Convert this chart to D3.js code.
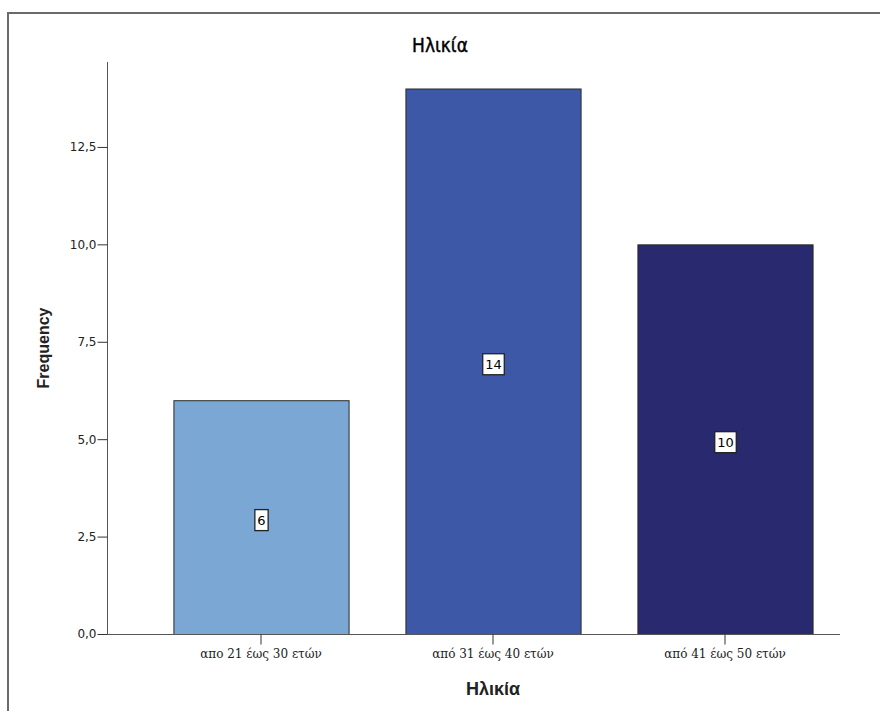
<!DOCTYPE html>
<html><head><meta charset="utf-8">
<script src="https://cdn.jsdelivr.net/npm/d3@7"></script>
<style>body{margin:0;background:#fff;} svg{display:block;}</style>
</head><body>
<svg id="chart" width="880" height="711"></svg>
<script>
const categories = ["απο 21 έως 30 ετών", "από 31 έως 40 ετών", "από 41 έως 50 ετών"];
const values = [6, 14, 10];
const colors = ["#7BA7D5", "#3E58A8", "#28296E"];
const yTicks = [0, 2.5, 5, 7.5, 10, 12.5];
const title = "Ηλικία";
const xTitle = "Ηλικία";
const yTitle = "Frequency";

const svg = d3.select("#chart");
// frame
svg.append("path").attr("d", "M8,711 V13 H880").attr("fill", "none").attr("stroke", "#6a6a6a").attr("stroke-width", 2);

const y = d3.scaleLinear().domain([0, 14.68]).range([634, 62]);
const x = d3.scaleBand().domain(categories).range([145, 841]).paddingInner(0.245).paddingOuter(0.1225);

svg.append("text").attr("x", 440).attr("y", 52).attr("text-anchor", "middle")
  .attr("font-family", "Liberation Sans Narrow, DejaVu Sans Condensed, sans-serif").attr("font-size", 19)
  .attr("fill", "#000").attr("stroke", "#000").attr("stroke-width", 0.4).text(title);

// bars
svg.append("g").selectAll("rect").data(values).join("rect")
  .attr("x", (d, i) => x(categories[i]) + 0.5)
  .attr("y", d => y(d) + 0.5)
  .attr("width", x.bandwidth())
  .attr("height", d => y(0) - y(d))
  .attr("fill", (d, i) => colors[i])
  .attr("stroke", "#2a2a2a").attr("stroke-width", 1);

// y axis
const yAxis = d3.axisLeft(y).tickValues(yTicks).tickSize(10).tickPadding(1)
  .tickFormat(d => d3.format(".1f")(d).replace(".", ","));
const gy = svg.append("g").attr("transform", "translate(107.5,0)").call(yAxis);
gy.select(".domain").attr("d", "M0,62V634.5").attr("stroke", "#555");
gy.selectAll(".tick line").attr("stroke", "#333");
gy.selectAll("text").attr("font-family", "DejaVu Sans, sans-serif").attr("font-size", 12).attr("fill", "#222");

// x axis
const xAxis = d3.axisBottom(x).tickSize(10).tickPadding(5);
const gx = svg.append("g").attr("transform", "translate(0,634.5)").call(xAxis);
gx.select(".domain").attr("d", "M107,0H840").attr("stroke", "#555");
gx.selectAll(".tick line").attr("stroke", "#333");
gx.selectAll("text").attr("font-family", "DejaVu Serif, serif").attr("font-size", 12).attr("fill", "#222");

// value labels
const lab = svg.append("g").selectAll("g").data(values).join("g")
  .attr("transform", (d, i) => `translate(${x(categories[i]) + x.bandwidth() / 2 + 0.5},${y(d / 2) + 3})`);
lab.append("text").attr("text-anchor", "middle").attr("dy", "0.36em")
  .attr("font-family", "DejaVu Sans, sans-serif").attr("font-size", 13).attr("fill", "#000")
  .text(d => d);
lab.each(function () {
  const g = d3.select(this);
  const bb = g.select("text").node().getBBox();
  g.insert("rect", "text").attr("x", bb.x - 2.5).attr("y", -10.5).attr("width", bb.width + 5).attr("height", 21)
    .attr("fill", "#fff").attr("stroke", "#222").attr("stroke-width", 1.3);
});

svg.append("text").attr("x", 493).attr("y", 695).attr("text-anchor", "middle")
  .attr("font-family", "Liberation Sans, Arial, sans-serif").attr("font-weight", "bold").attr("font-size", 18).attr("fill", "#222").text(xTitle);
svg.append("text").attr("transform", "translate(49,348) rotate(-90)").attr("text-anchor", "middle")
  .attr("font-family", "Liberation Sans, Arial, sans-serif").attr("font-weight", "bold").attr("font-size", 16).attr("fill", "#222").text(yTitle);
</script>
</body></html>
